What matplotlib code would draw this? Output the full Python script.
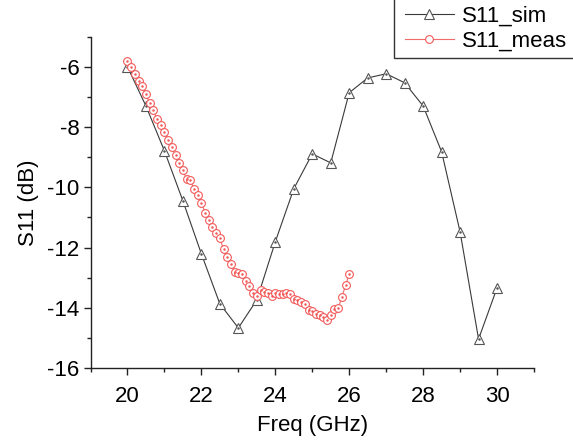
import matplotlib
matplotlib.use("Agg")
import matplotlib.pyplot as plt
from matplotlib.patches import Rectangle

plt.rcParams["font.family"] = ["Liberation Sans", "DejaVu Sans"]
plt.rcParams["axes.unicode_minus"] = False  # reference uses a plain hyphen

# -------------------------
# DATA
# -------------------------
freq_sim = [20.0, 20.5, 21.0, 21.5, 22.0, 22.5, 23.0, 23.5, 24.0, 24.5, 25.0,
            25.5, 26.0, 26.5, 27.0, 27.5, 28.0, 28.5, 29.0, 29.5, 30.0]
s11_sim = [-6.0, -7.30, -8.79, -10.45, -12.21, -13.87, -14.67, -13.74, -11.81, -10.05, -8.89,
           -9.19, -6.86, -6.37, -6.23, -6.53, -7.30, -8.82, -11.48, -15.04, -13.34]

freq_meas = [20.0, 20.1, 20.2, 20.3, 20.4, 20.5, 20.6, 20.7, 20.8, 20.9,
             21.0, 21.1, 21.2, 21.3, 21.4, 21.5, 21.6, 21.7, 21.8, 21.9,
             22.0, 22.1, 22.2, 22.3, 22.4, 22.5, 22.6, 22.7, 22.8, 22.9,
             23.0, 23.1, 23.2, 23.3, 23.4, 23.5, 23.6, 23.7, 23.8, 23.9,
             24.0, 24.1, 24.2, 24.3, 24.4, 24.5, 24.6, 24.7, 24.8, 24.9,
             25.0, 25.1, 25.2, 25.3, 25.4, 25.5, 25.6, 25.7, 25.8, 25.9, 26.0]
s11_meas = [-5.80, -6.02, -6.23, -6.46, -6.65, -6.91, -7.21, -7.45, -7.73, -7.94,
            -8.17, -8.42, -8.67, -8.93, -9.18, -9.44, -9.72, -9.77, -10.05, -10.26,
            -10.51, -10.84, -11.08, -11.31, -11.53, -11.70, -12.05, -12.32, -12.55, -12.80,
            -12.83, -12.89, -13.11, -13.27, -13.52, -13.62, -13.42, -13.47, -13.52, -13.60,
            -13.50, -13.53, -13.53, -13.51, -13.53, -13.71, -13.74, -13.80, -13.87, -14.07,
            -14.12, -14.20, -14.24, -14.30, -14.40, -14.25, -14.05, -14.02, -13.65, -13.26, -12.87]

x_ticks = [20, 22, 24, 26, 28, 30]
y_ticks = [-16, -14, -12, -10, -8, -6]

SIM_LINE = "#3a3a3a"
SIM_EDGE = "#555555"
MEAS_LINE = "#f26b6b"
MEAS_EDGE = "#f25a5a"

W, H = 573, 444
fig = plt.figure(figsize=(W / 100, H / 100), dpi=100)
ax = fig.add_axes([90.5 / W, (H - 368) / H, 443.5 / W, 331.3 / H])

ax.plot(freq_sim, s11_sim, color=SIM_LINE, lw=0.8, marker="^", ms=6.5,
        mfc="white", mec=SIM_EDGE, mew=0.8, label="S11_sim", zorder=2)
ax.plot(freq_sim, s11_sim, ls="none", marker="o", ms=0.8, color=SIM_EDGE, zorder=2.5)
ax.plot(freq_meas, s11_meas, color=MEAS_LINE, lw=0.8, marker="o", ms=5.6,
        mfc="white", mec=MEAS_EDGE, mew=0.8, label="S11_meas", zorder=3)
ax.plot(freq_meas, s11_meas, ls="none", marker="o", ms=0.8, color=MEAS_EDGE, zorder=3.5)

ax.set_xlim(19, 31)
ax.set_ylim(-16, -5)
ax.set_xticks(x_ticks)
ax.set_yticks(y_ticks)
ax.set_xticks([19, 21, 23, 25, 27, 29, 31], minor=True)
ax.set_yticks([-15, -13, -11, -9, -7, -5], minor=True)

for side in ("top", "right"):
    ax.spines[side].set_visible(False)
for side in ("left", "bottom"):
    ax.spines[side].set_linewidth(1.0)
    ax.spines[side].set_color("#222222")

ax.tick_params(which="major", direction="out", length=5, width=1.0,
               labelsize=16, pad=3, colors="#222222", labelcolor="black")
ax.tick_params(axis="x", which="major", pad=8)
ax.tick_params(which="minor", direction="out", length=3, width=1.0, colors="#222222")

ax.set_xlabel("Freq (GHz)", fontsize=16, labelpad=6)
ax.set_ylabel("S11 (dB)", fontsize=16, labelpad=6)

# legend frame is cut by the figure's top and right edges, drawn by hand
frame = Rectangle((394 / W, (H - 58) / H), 0.5, 0.5, transform=fig.transFigure,
                  facecolor="white", edgecolor="#333333", lw=1.0, zorder=4)
fig.patches.append(frame)

leg = fig.legend(loc="upper left", bbox_to_anchor=(405 / W, 1 - 6 / H),
                 fontsize=16, frameon=False, borderpad=0, labelspacing=0.15,
                 handlelength=2.2, handletextpad=0.36, borderaxespad=0)
leg.set_zorder(5)

fig.savefig("out.png", dpi=100)
